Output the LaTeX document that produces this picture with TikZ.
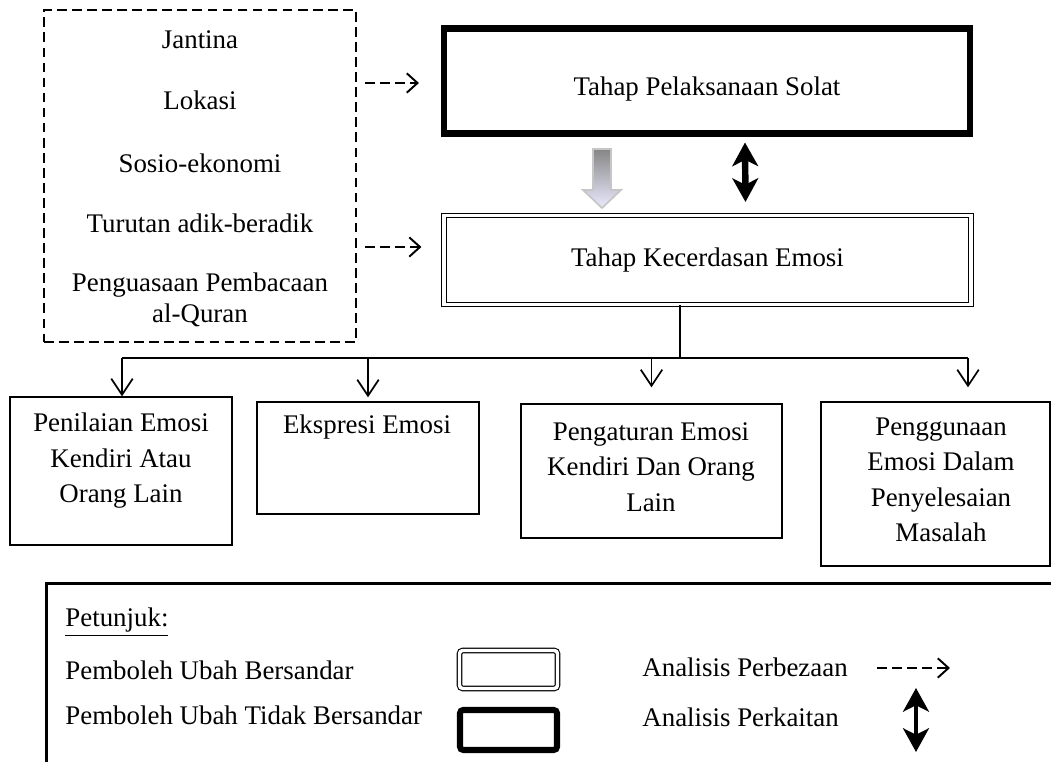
\documentclass[tikz,border=0pt]{standalone}
\usepackage{fontspec}
\setmainfont{Liberation Serif}
\usetikzlibrary{arrows.meta, calc}

\begin{document}
\begin{tikzpicture}[x=0.465pt, y=-0.465pt, font=\fontsize{12.5}{16.5}\selectfont,
	txt/.style={inner sep=0pt, align=center},
	dashbox/.style={draw, rectangle, dash pattern=on 4.5pt off 2.5pt, line width=0.9pt},
	thickbox/.style={draw, rectangle, line width=2.8pt},
	dblbox/.style={draw, rectangle, double, line width=0.5pt, double distance=1.6pt},
	plainbox/.style={draw, rectangle, line width=0.6pt},
	dasharrow/.style={dash pattern=on 4.5pt off 2.5pt, line width=0.9pt,
		-{Straight Barb[length=5pt, width=9pt, line width=0.9pt]}},
	bothway/.style={line width=3pt, {Stealth[length=11pt, width=12pt, inset=3pt]}-{Stealth[length=11pt, width=12pt, inset=3pt]}},
	downarrow/.style={line width=0.8pt, -{Straight Barb[length=7.5pt, width=10pt, line width=0.8pt]}}]
	\def \pxl {0.465pt}

	\useasboundingbox (0,0) rectangle (1051,762);

	% left side
	\node[dashbox, minimum width=312*\pxl, minimum height=332*\pxl] (factors) at (200,176) {};
	\node[txt] (jantina)  at (200,40)  {Jantina};
	\node[txt] (lokasi)   at (200,100) {Lokasi};
	\node[txt] (sosio)    at (200,163) {Sosio-ekonomi};
	\node[txt] (turutan)  at (200,223) {Turutan adik-beradik};
	\node[txt, font=\fontsize{12.5}{14.5}\selectfont] (quran) at (200,300)
		{Penguasaan Pembacaan\\al-Quran};

	% main boxes
	\node[thickbox, minimum width=526*\pxl, minimum height=105*\pxl, text height=16.5pt]
		(solat) at (707,81) {Tahap Pelaksanaan Solat};
	\node[dblbox, minimum width=527*\pxl, minimum height=89*\pxl]
		(kec) at (707.5,260) {Tahap Kecerdasan Emosi};

	\draw[dasharrow] ($(factors.east |- solat.west)+(8,2)$) -- ($(solat.west)+(-22,2)$);
	\draw[dasharrow] ($(factors.east |- kec.west)+(8,-13)$) -- ($(kec.west)+(-22,-13)$);
	\draw[bothway] ($(solat.south)+(38,6)$) -- ($(kec.north)+(38,-13)$);

	\shade[top color=gray!95, bottom color=blue!8!white, draw=gray!45, line width=0.8pt]
		(593,149) -- (611,149) -- (611,190) -- (621,190) -- (602,208)
		-- (583,190) -- (593,190) -- cycle;

	% bottom boxes
	\node[plainbox, minimum width=222*\pxl, minimum height=148*\pxl] (pen)  at (121,471) {};
	\node[plainbox, minimum width=222*\pxl, minimum height=112*\pxl] (eks)  at (368,458) {};
	\node[plainbox, minimum width=261*\pxl, minimum height=134*\pxl] (peng) at (651.5,471) {};
	\node[plainbox, minimum width=229*\pxl, minimum height=164*\pxl] (guna) at (935.5,484) {};

	\node[txt] (pentext)  at (121,461) {Penilaian Emosi\\Kendiri Atau\\Orang Lain};
	\node[txt] (ekstext)  at (367,427) {Ekspresi Emosi};
	\node[txt] (pengtext) at (651,467) {Pengaturan Emosi\\Kendiri Dan Orang\\Lain};
	\node[txt] (gunatext) at (941,480) {Penggunaan\\Emosi Dalam\\Penyelesaian\\Masalah};

	\coordinate (bus)  at (680,358);
	\coordinate (busL) at (122,358);
	\coordinate (busR) at (968,358);
	\draw[line width=0.9pt] (kec.south -| bus) -- (bus);
	\draw[line width=0.9pt] (busL) -- (busR);
	\draw[downarrow] (busL) -- (busL |- pen.north);
	\draw[downarrow] (bus -| eks.north) -- ($(eks.north)+(0,-4)$);
	\draw[downarrow] (bus -| peng.north) -- ($(peng.north)+(0,-16)$);
	\draw[downarrow] (busR) -- ($(busR |- guna.north)+(0,-14)$);

	% legend
	\node[draw, rectangle, line width=1.4pt, minimum width=1100*\pxl, minimum height=260*\pxl,
		anchor=north west] (legend) at (45,582) {};
	\node[txt, anchor=west] (petunjuk)  at (65,622) {\underline{Petunjuk:}};
	\node[txt, anchor=west] (bersandar) at (65,670) {Pemboleh Ubah Bersandar};
	\node[txt, anchor=west] (tidak)     at (65,715) {Pemboleh Ubah Tidak Bersandar};
	\node[dblbox, rounded corners=1.5pt, minimum width=98*\pxl, minimum height=38*\pxl]
		(keydbl) at (508.5,669.5) {};
	\node[thickbox, rounded corners=1.5pt, minimum width=97*\pxl, minimum height=40*\pxl]
		(keythick) at (508.5,730) {};
	\node[txt, anchor=west] (perbezaan) at (642,667) {Analisis Perbezaan};
	\node[txt, anchor=west] (perkaitan) at (642,717) {Analisis Perkaitan};

	\coordinate (diffA) at (877,668);
	\coordinate (diffB) at (950,668);
	\draw[dasharrow] (diffA) -- (diffB);
	\coordinate (linkA) at (916,688);
	\coordinate (linkB) at (916,752);
	\draw[bothway, line width=2.3pt] (linkA) -- (linkB);
\end{tikzpicture}
\end{document}
